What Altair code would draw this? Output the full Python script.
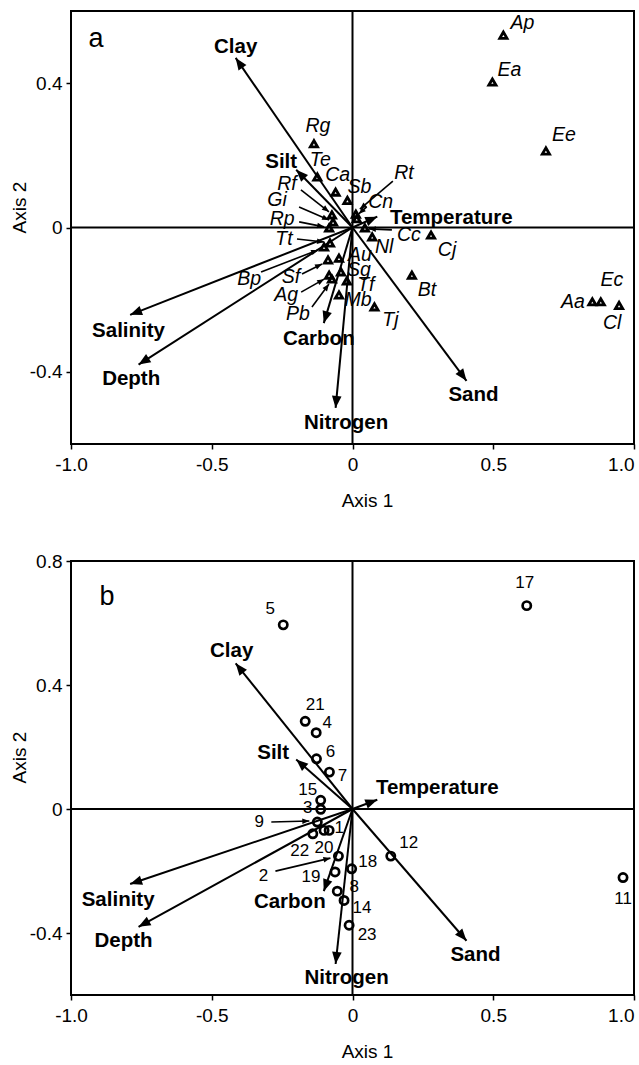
import math
import altair as alt
import pandas as pd

FONT = "Liberation Sans, Arial, Helvetica, sans-serif"

# ---------------- data ----------------
# Environmental vectors (identical in both panels)
env_names = ["Clay", "Silt", "Temperature", "Sand", "Nitrogen", "Carbon", "Salinity", "Depth"]
env_x = [-0.415, -0.200, 0.088, 0.405, -0.060, -0.102, -0.790, -0.760]
env_y = [0.470, 0.160, 0.030, -0.425, -0.500, -0.265, -0.242, -0.380]

# Panel a: species scores
species = ["Ap", "Ea", "Ee", "Rg", "Te", "Ca", "Sb", "Rt", "Cn", "Cc", "Nl", "Cj", "Bt", "Tj",
           "Mb", "Tf", "Sg", "Au", "Aa", "Ec", "Cl", "Rf", "Gi", "Rp", "Tt", "Bp", "Sf", "Ag", "Pb"]
species_x = [0.536, 0.497, 0.687, -0.137, -0.125, -0.060, -0.018, 0.012, 0.015, 0.044, 0.070,
             0.279, 0.211, 0.078, -0.048, -0.020, -0.041, -0.048, 0.852, 0.882, 0.947, -0.073,
             -0.069, -0.083, -0.080, -0.101, -0.087, -0.083, -0.073]
species_y = [0.533, 0.403, 0.212, 0.232, 0.140, 0.098, 0.075, 0.037, 0.024, -0.001, -0.026,
             -0.021, -0.132, -0.220, -0.187, -0.148, -0.123, -0.085, -0.206, -0.206, -0.216,
             0.035, 0.015, -0.001, -0.043, -0.054, -0.090, -0.132, -0.143]

# Panel b: site scores
sites = ["1", "2", "3", "4", "5", "6", "7", "8", "9", "11", "12", "14", "15", "17", "18",
         "19", "20", "21", "22", "23"]
site_x = [-0.083, -0.050, -0.113, -0.129, -0.246, -0.128, -0.082, -0.054, -0.125, 0.961,
          0.136, -0.030, -0.113, 0.619, -0.003, -0.062, -0.101, -0.168, -0.141, -0.012]
site_y = [-0.069, -0.152, -0.001, 0.246, 0.594, 0.162, 0.119, -0.265, -0.042, -0.221,
          -0.152, -0.295, 0.028, 0.656, -0.193, -0.203, -0.069, 0.283, -0.080, -0.375]

# ------------- label placement: pixel offsets from each point -------------
env_label_a = {"Clay": (0, -11), "Silt": (-15, -8), "Temperature": (74, 1), "Sand": (7, 14.5),
               "Nitrogen": (10.5, 15), "Carbon": (-5, 16), "Salinity": (-1.6, 16.5),
               "Depth": (-7.4, 14.7)}
env_label_b = {"Clay": (-4, -12), "Silt": (-23, -6), "Temperature": (60, -11.5),
               "Sand": (9, 14.5), "Nitrogen": (11, 14), "Carbon": (-34, 11),
               "Salinity": (-12, 15.5), "Depth": (-15, 14.5)}
species_label = {"Ap": (19, -12), "Ea": (17, -12), "Ee": (18, -16), "Rg": (4, -18),
                 "Te": (3, -17), "Ca": (2, -17), "Sb": (12, -13), "Nl": (12, 10),
                 "Cj": (16, 15), "Bt": (15, 15), "Tj": (16, 13), "Mb": (19, 5), "Tf": (19, 4),
                 "Sg": (18, -2), "Au": (21, -3), "Aa": (-19.5, 0), "Ec": (11, -22),
                 "Cl": (-7, 18), "Rf": (-45, -31), "Gi": (-56, -22), "Rp": (-47, -9),
                 "Tt": (-46, -4), "Bp": (-75, 32), "Sf": (-37, 17), "Ag": (-43, 20),
                 "Pb": (-34, 35), "Rt": (48, -41), "Cn": (24, -17), "Cc": (44, 7)}
# leader arrows: (start dx, start dy, end dx, end dy) relative to the point
species_leader = {"Rf": (-31, -25, -3, -3), "Gi": (-34, -15, -4, -2), "Rp": (-30, -6, -5, -1),
                  "Tt": (-33, -4, -6, -1), "Bp": (-63, 25, -6, 3), "Sf": (-26, 14, -6, 4),
                  "Ag": (-28, 17, -5, 4), "Pb": (-20, 28, -3, 5), "Rt": (37, -33, 4, -5),
                  "Cn": (10, -12, 2, -5), "Cc": (27, 2, 4, 1)}
site_label = {"1": (10, -2), "2": (-75, 20), "3": (-13, -1), "4": (11, -10), "5": (-13, -16),
              "6": (14, -7), "7": (13, 3.5), "8": (17, -4), "9": (-58, 0), "11": (0, 21),
              "12": (18, -13), "14": (18, 8), "15": (-13, -10), "17": (-2, -23),
              "18": (16, -7), "19": (-24, 5), "20": (0, 18), "21": (10, -16),
              "22": (-13, 17), "23": (18, 10)}
site_leader = {"9": (-46, 0, -8, -1), "2": (-63, 15, -8, 2)}

# ---------------- layout ----------------
W = 563
XD = [-1.0, 1.0]
ARROW = "M0,0 L0.8,2 L-0.8,2 Z"
LAB = "datum.value == 0 ? '0' : (datum.value < 0 ? '-' : '') + format(abs(datum.value), '.1f')"


def panel(letter, letter_xy, ydom, h, yticks, env_off, names, xs_, ys_, shape, size, sw,
          lsize, lstyle, loff, leaders):
    kx = W / (XD[1] - XD[0])
    ky = h / (ydom[1] - ydom[0])
    xsc = alt.Scale(domain=XD, nice=False, zero=False)
    ysc = alt.Scale(domain=ydom, nice=False, zero=False)
    xa = alt.Axis(values=[-1, -0.5, 0, 0.5, 1], labelExpr=LAB, title="Axis 1", titleX=296,
                  grid=False, domain=False, tickSize=5, tickWidth=1.5, tickColor="black",
                  labelPadding=6.5, titlePadding=17, labelFont=FONT, labelFontSize=19,
                  labelColor="black", titleFont=FONT, titleFontSize=19,
                  titleFontWeight="normal", titleColor="black", labelFlush=False,
                  labelAlign={"condition": {"test": "datum.value >= 1", "value": "right"},
                              "value": "center"})
    ya = alt.Axis(values=yticks, labelExpr=LAB, title="Axis 2", titleY=196, grid=False,
                  domain=False, tickSize=5, tickWidth=1.5, tickColor="black",
                  labelPadding=4, titlePadding=0, labelFont=FONT, labelFontSize=19,
                  labelColor="black", titleFont=FONT, titleFontSize=19,
                  titleFontWeight="normal", titleColor="black")

    def X(f):
        return alt.X(f, type="quantitative", scale=xsc, axis=xa)

    def Y(f):
        return alt.Y(f, type="quantitative", scale=ysc, axis=ya)

    env = pd.DataFrame({
        "name": env_names,
        "x0": [0.0] * len(env_names),
        "y0": [0.0] * len(env_names),
        "x": env_x,
        "y": env_y,
    })
    env["ang"] = [math.degrees(math.atan2(x * kx, y * ky)) % 360 for x, y in zip(env_x, env_y)]
    env["lx"] = [x + env_off[n][0] / kx for n, x in zip(env_names, env_x)]
    env["ly"] = [y - env_off[n][1] / ky for n, y in zip(env_names, env_y)]

    pts = pd.DataFrame({"name": names, "x": xs_, "y": ys_})
    pts["lx"] = [x + loff[n][0] / kx for n, x in zip(names, xs_)]
    pts["ly"] = [y - loff[n][1] / ky for n, y in zip(names, ys_)]

    rows = []
    for n, x, y in zip(names, xs_, ys_):
        if n in leaders:
            sdx, sdy, edx, edy = leaders[n]
            rows.append({
                "sx": x + sdx / kx, "sy": y - sdy / ky,
                "ex": x + edx / kx, "ey": y - edy / ky,
                "ang": math.degrees(math.atan2(edx - sdx, -(edy - sdy))) % 360,
            })
    lead = pd.DataFrame(rows)

    zero = pd.DataFrame({"v": [0.0]})
    layers = [
        alt.Chart(zero).mark_rule(color="black", strokeWidth=2).encode(x=X("v")),
        alt.Chart(zero).mark_rule(color="black", strokeWidth=2).encode(y=Y("v")),
        alt.Chart(env).mark_rule(color="black", strokeWidth=2).encode(
            x=X("x0"), y=Y("y0"), x2="x", y2="y"),
        alt.Chart(env).mark_point(shape=ARROW, filled=True, color="black", size=144,
                                  opacity=1, strokeWidth=0).encode(
            x=X("x"), y=Y("y"), angle=alt.Angle("ang:Q", scale=None)),
        alt.Chart(lead).mark_rule(color="black", strokeWidth=1.6).encode(
            x=X("sx"), y=Y("sy"), x2="ex", y2="ey"),
        alt.Chart(lead).mark_point(shape=ARROW, filled=True, color="black", size=49,
                                   opacity=1, strokeWidth=0).encode(
            x=X("ex"), y=Y("ey"), angle=alt.Angle("ang:Q", scale=None)),
        alt.Chart(pts).mark_point(shape=shape, filled=False, color="black", size=size,
                                  strokeWidth=sw, opacity=1).encode(x=X("x"), y=Y("y")),
        alt.Chart(pts).mark_text(font=FONT, fontSize=lsize, fontStyle=lstyle, color="black",
                                 align="center", baseline="middle").encode(
            x=X("lx"), y=Y("ly"), text="name:N"),
        alt.Chart(env).mark_text(font=FONT, fontSize=20.5, fontWeight="bold", color="black",
                                 align="center", baseline="middle").encode(
            x=X("lx"), y=Y("ly"), text="name:N"),
        alt.Chart(pd.DataFrame({"t": [letter]})).mark_text(
            font=FONT, fontSize=27, color="black", align="center", baseline="middle").encode(
            x=alt.value(letter_xy[0]), y=alt.value(letter_xy[1]), text="t:N"),
    ]
    return alt.layer(*layers).properties(width=W, height=h)


top = panel("a", (25, 28), [-0.6, 0.6], 433, [-0.4, 0, 0.4], env_label_a,
            species, species_x, species_y, "triangle-up", 52, 2.8, 19.5, "italic",
            species_label, species_leader)
bottom = panel("b", (36, 36), [-0.6, 0.8], 434, [-0.4, 0, 0.4, 0.8], env_label_b,
               sites, site_x, site_y, "circle", 68, 2.7, 17, "normal",
               site_label, site_leader)

chart = alt.vconcat(top, bottom, spacing=39).properties(
    padding={"left": 9, "top": 9, "right": 0, "bottom": 0}
).configure_view(stroke="black", strokeWidth=2)

chart.save("out.html", embed_options={"renderer": "svg", "actions": False})
